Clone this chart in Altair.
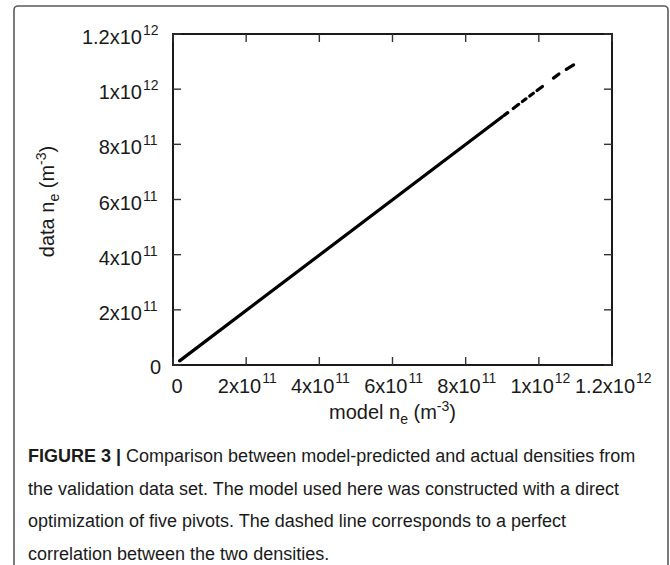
import altair as alt
import pandas as pd

# ---------------- data ----------------
# visible stretches of the scattered points (model n_e -> data n_e)
seg_model_start = [1.8e10, 9.05e11, 9.30e11, 9.55e11, 9.75e11, 9.95e11, 1.040e12, 1.075e12]
seg_model_end = [9.00e11, 9.15e11, 9.45e11, 9.65e11, 9.85e11, 1.010e12, 1.055e12, 1.095e12]
seg_data_start = [1.5e10, 9.05e11, 9.30e11, 9.55e11, 9.75e11, 9.95e11, 1.040e12, 1.072e12]
seg_data_end = [9.00e11, 9.15e11, 9.45e11, 9.65e11, 9.85e11, 1.010e12, 1.055e12, 1.088e12]

tick_values = [0, 2e11, 4e11, 6e11, 8e11, 1e12, 1.2e12]
tick_base = ["0", "2x10", "4x10", "6x10", "8x10", "1x10", "1.2x10"]
tick_sup = ["", "11", "11", "11", "11", "12", "12"]

x_title_parts = ["model n", "e", " (m", "-3", ")"]
y_title_parts = ["data n", "e", " (m", "-3", ")"]
title_roles = ["base", "sub", "base", "sup", "base"]

caption_bold = "FIGURE 3 |"
caption_lines = [
    " Comparison between model-predicted and actual densities from",
    "the validation data set. The model used here was constructed with a direct",
    "optimization of five pivots. The dashed line corresponds to a perfect",
    "correlation between the two densities.",
]

# ---------------- layout / style ----------------
W, H = 439, 331
PAD_L, PAD_T = 173, 34
FONT = "Liberation Sans, Arial, Helvetica, sans-serif"
TXT = "#1a1a1a"
BASE_FS, SMALL_FS = 20, 14

ARIAL = {" ": 278, "(": 333, ")": 333, "-": 333, ".": 278, "|": 260, "x": 500,
         "a": 556, "d": 556, "e": 556, "l": 222, "m": 833, "n": 556, "o": 556, "t": 278}
for c in "0123456789":
    ARIAL[c] = 556
ARIAL_BOLD = {"F": 611, "I": 278, "G": 778, "U": 722, "R": 722, "E": 667, " ": 278,
              "3": 556, "|": 280}


def tw(s, size, table=ARIAL):
    return sum(table.get(c, 556) for c in s) / 1000.0 * size


def lead(s):
    """split leading spaces (Vega trims them) from the visible text"""
    core = s.lstrip(" ")
    return s[: len(s) - len(core)], core


xs = alt.Scale(domain=[0, 1.2e12], nice=False, zero=False)
ys = alt.Scale(domain=[0, 1.2e12], nice=False, zero=False)

segs = pd.DataFrame({"x0": seg_model_start, "x1": seg_model_end,
                     "y0": seg_data_start, "y1": seg_data_end})
ticks = pd.DataFrame({"v": tick_values, "base": tick_base, "sup": tick_sup})
ticks_sup = ticks[ticks["sup"] != ""]
ticks_zero = ticks[ticks["sup"] == ""]

# scatter line
points = alt.Chart(segs).mark_rule(color="#000000", strokeWidth=3.2, strokeCap="round").encode(
    x=alt.X("x0:Q", scale=xs, axis=None), x2="x1:Q",
    y=alt.Y("y0:Q", scale=ys, axis=None), y2="y1:Q")

TL = 8
tick_col = "#333333"
tx_bottom = alt.Chart(ticks).mark_rule(color=tick_col, strokeWidth=1.4).encode(
    x=alt.X("v:Q", scale=xs, axis=None), y=alt.value(H), y2=alt.value(H - TL))
tx_top = alt.Chart(ticks).mark_rule(color=tick_col, strokeWidth=1.4).encode(
    x=alt.X("v:Q", scale=xs, axis=None), y=alt.value(0), y2=alt.value(TL))
ty_left = alt.Chart(ticks).mark_rule(color=tick_col, strokeWidth=1.4).encode(
    y=alt.Y("v:Q", scale=ys, axis=None), x=alt.value(0), x2=alt.value(TL))
ty_right = alt.Chart(ticks).mark_rule(color=tick_col, strokeWidth=1.4).encode(
    y=alt.Y("v:Q", scale=ys, axis=None), x=alt.value(W), x2=alt.value(W - TL))

# x tick labels: base right-aligned, superscript left-aligned
xlab_src = alt.Chart(ticks_sup).transform_calculate(
    xl="datum.v + (length(datum.base) - 4) * 1.1e10")
xlab_base = xlab_src.mark_text(align="right", baseline="alphabetic", font=FONT,
                               fontSize=BASE_FS, color=TXT, dx=15).encode(
    x=alt.X("xl:Q", scale=xs, axis=None), y=alt.value(H + 28), text="base:N")
xlab_sup = xlab_src.mark_text(align="left", baseline="alphabetic", font=FONT,
                              fontSize=SMALL_FS, color=TXT, dx=16).encode(
    x=alt.X("xl:Q", scale=xs, axis=None), y=alt.value(H + 18), text="sup:N")
xlab_zero = alt.Chart(ticks_zero).mark_text(align="center", baseline="alphabetic", font=FONT,
                                            fontSize=BASE_FS, color=TXT, dx=4).encode(
    x=alt.X("v:Q", scale=xs, axis=None), y=alt.value(H + 28), text="base:N")

# y tick labels
ylab_base = alt.Chart(ticks_sup).mark_text(align="right", baseline="alphabetic", font=FONT,
                                           fontSize=BASE_FS, color=TXT, dy=10).encode(
    y=alt.Y("v:Q", scale=ys, axis=None), x=alt.value(-31), text="base:N")
ylab_sup = alt.Chart(ticks_sup).mark_text(align="left", baseline="alphabetic", font=FONT,
                                          fontSize=SMALL_FS, color=TXT, dy=1).encode(
    y=alt.Y("v:Q", scale=ys, axis=None), x=alt.value(-30), text="sup:N")
ylab_zero = alt.Chart(ticks_zero).mark_text(align="right", baseline="alphabetic", font=FONT,
                                            fontSize=BASE_FS, color=TXT, dy=9).encode(
    y=alt.Y("v:Q", scale=ys, axis=None), x=alt.value(-12), text="base:N")


def title_layers(parts, horizontal):
    sizes = [BASE_FS if r == "base" else SMALL_FS for r in title_roles]
    widths = [tw(p, s) for p, s in zip(parts, sizes)]
    total = sum(widths)
    layers = []
    off = -total / 2.0
    for p, r, s, w in zip(parts, title_roles, sizes, widths):
        shift = {"base": 0, "sub": 5, "sup": -8}[r]
        sp, core = lead(p)
        d = off + tw(sp, s)
        df = pd.DataFrame({"t": [core]})
        if horizontal:
            m = alt.Chart(df).mark_text(align="left", baseline="alphabetic", font=FONT,
                                        fontSize=s, color=TXT, dx=d, dy=shift).encode(
                x=alt.value(W / 2), y=alt.value(H + 54), text="t:N")
        else:
            m = alt.Chart(df).mark_text(align="left", baseline="alphabetic", font=FONT,
                                        fontSize=s, color=TXT, angle=270, dx=d, dy=shift).encode(
                x=alt.value(-119), y=alt.value(H / 2 + 2), text="t:N")
        layers.append(m)
        off += w
    return layers


# caption
CAP_FS = 18
CAP_X = -145
cap_base_y = [428, 461, 493, 526]
cap_layers = []
bold_w = tw(caption_bold, CAP_FS, ARIAL_BOLD)
cap_layers.append(
    alt.Chart(pd.DataFrame({"t": [caption_bold]})).mark_text(
        align="left", baseline="alphabetic", font=FONT, fontSize=CAP_FS, fontWeight="bold",
        color=TXT).encode(x=alt.value(CAP_X), y=alt.value(cap_base_y[0]), text="t:N"))
for i, line in enumerate(caption_lines):
    sp, core = lead(line)
    d = tw(sp, CAP_FS) + (bold_w if i == 0 else 0)
    cap_layers.append(
        alt.Chart(pd.DataFrame({"t": [core]})).mark_text(
            align="left", baseline="alphabetic", font=FONT, fontSize=CAP_FS, color=TXT,
            dx=d).encode(
            x=alt.value(CAP_X), y=alt.value(cap_base_y[i]), text="t:N"))

# outer figure frame
frame = alt.Chart(pd.DataFrame({"a": [0]})).mark_rect(
    filled=False, stroke="#5a5a5a", strokeWidth=1.6, cornerRadius=4).encode(
    x=alt.value(14 - PAD_L), x2=alt.value(668 - PAD_L),
    y=alt.value(6 - PAD_T), y2=alt.value(620 - PAD_T))

chart = alt.layer(
    frame, points, tx_bottom, tx_top, ty_left, ty_right,
    xlab_base, xlab_sup, xlab_zero, ylab_base, ylab_sup, ylab_zero,
    *title_layers(x_title_parts, True), *title_layers(y_title_parts, False),
    *cap_layers,
).properties(
    width=W, height=H,
    autosize=alt.AutoSizeParams(type="none"),
    padding={"left": PAD_L, "top": PAD_T, "right": 670 - PAD_L - W, "bottom": 565 - PAD_T - H},
    background="white",
).configure_view(stroke="#1a1a1a", strokeWidth=2)

chart.save("out.html", embed_options={"renderer": "svg", "actions": False})
